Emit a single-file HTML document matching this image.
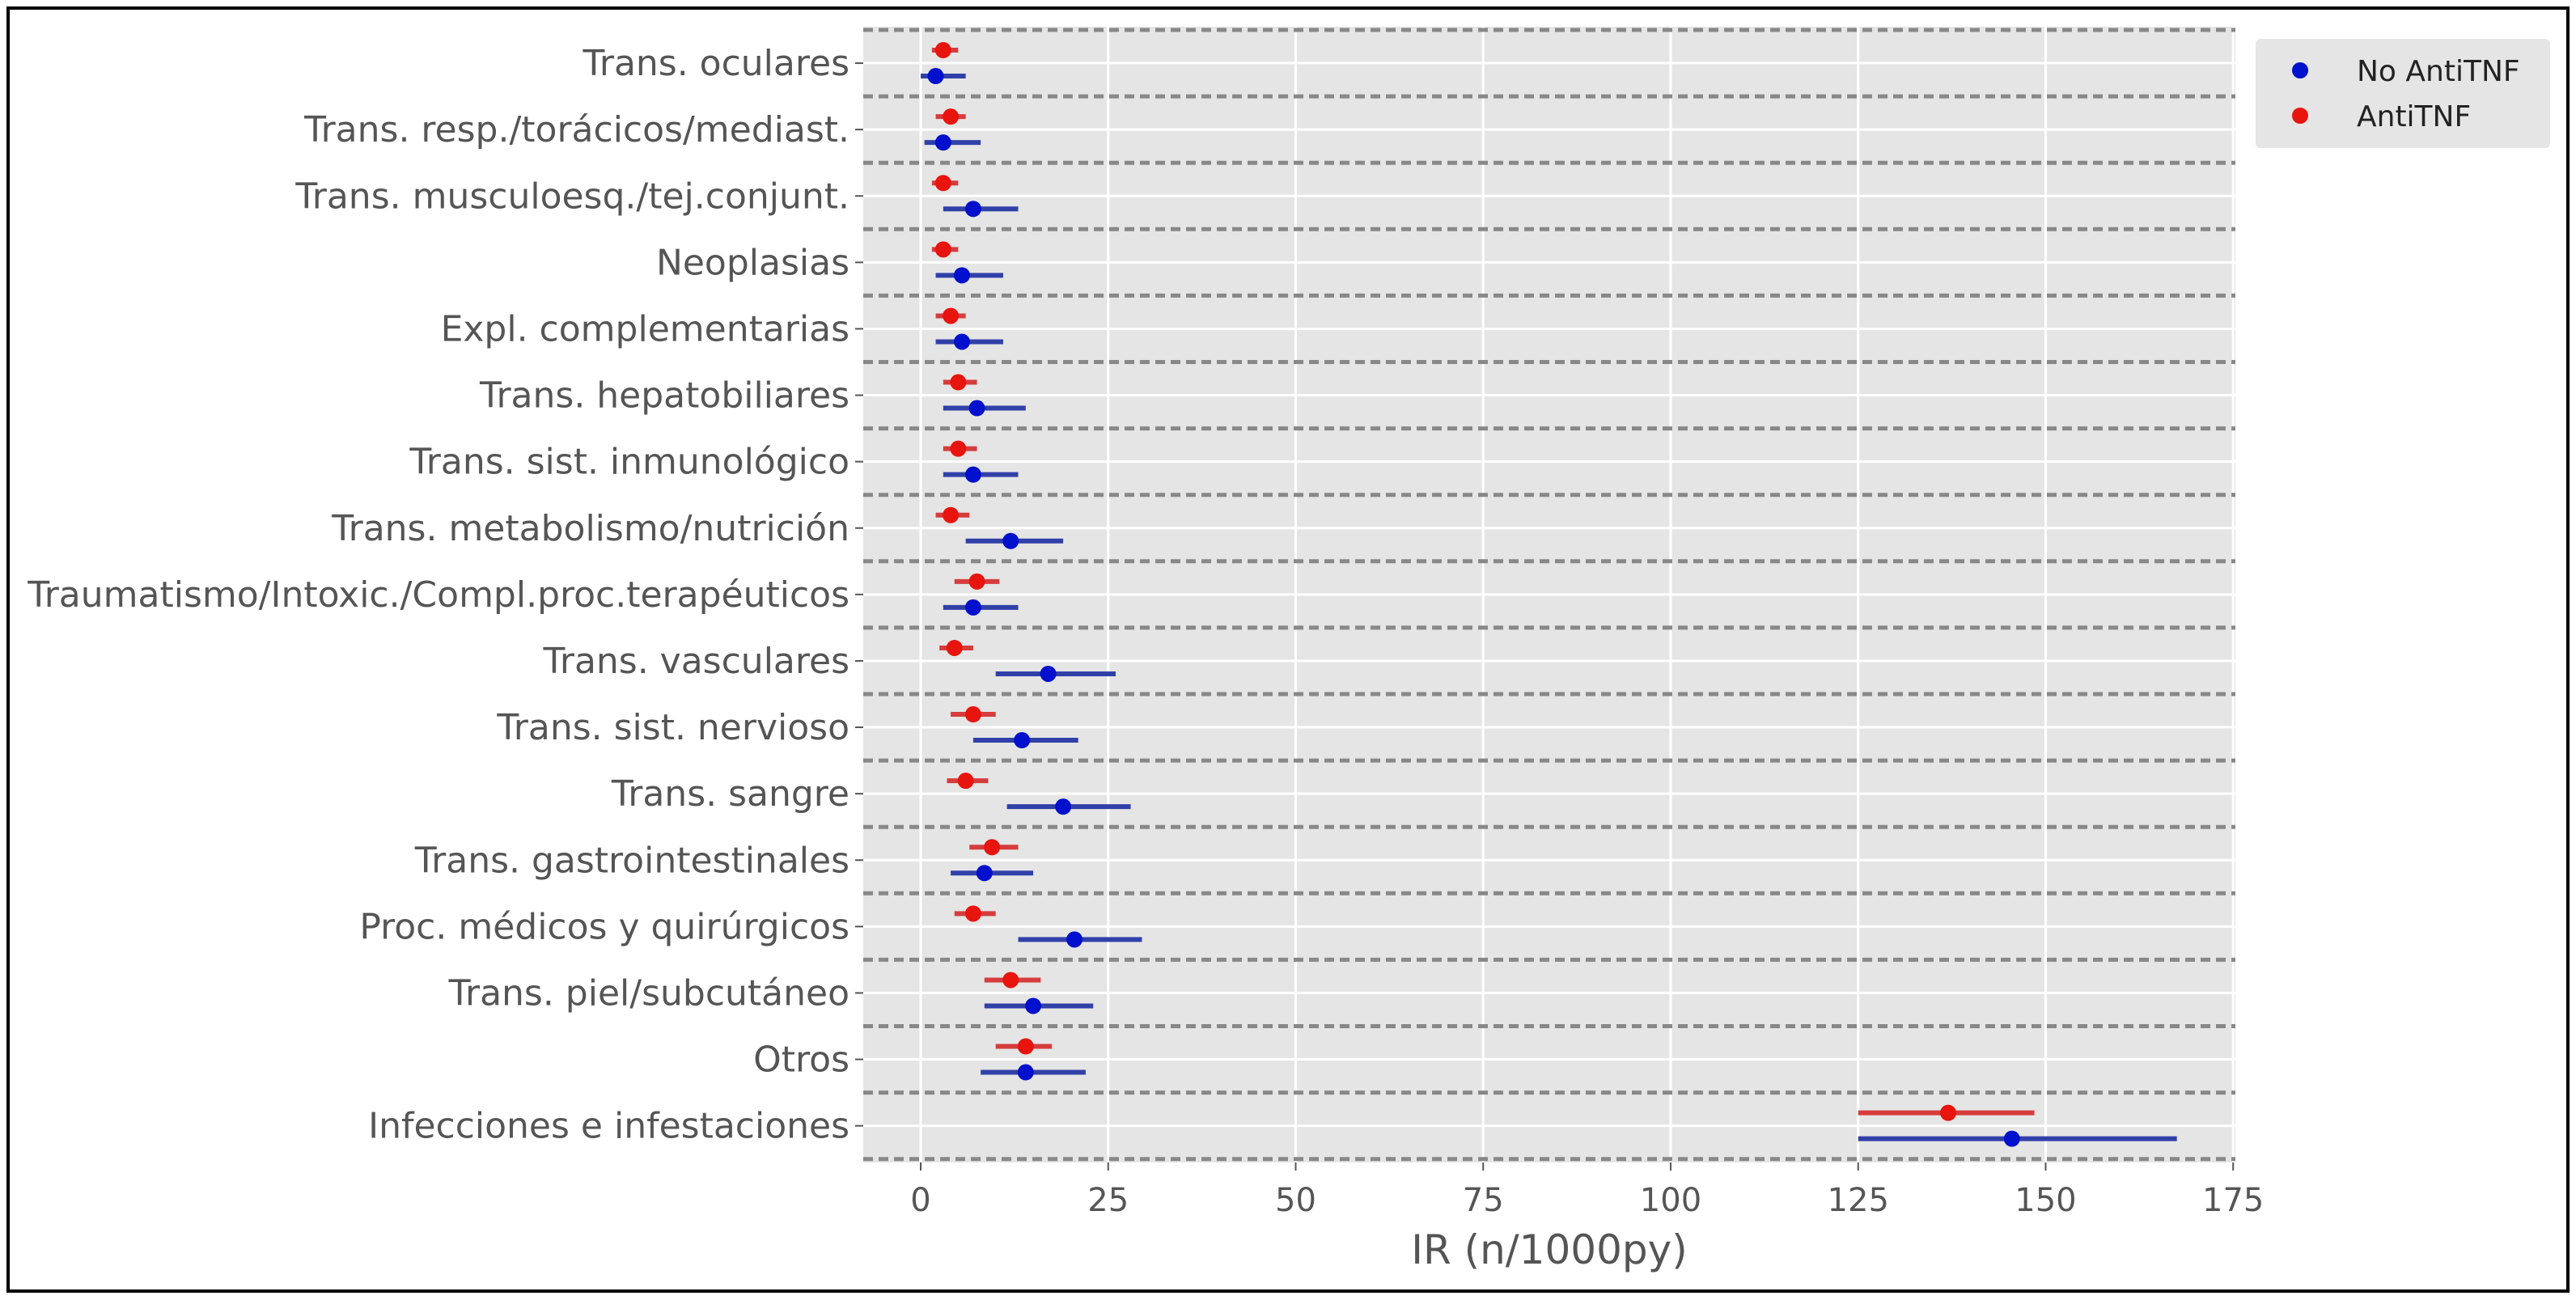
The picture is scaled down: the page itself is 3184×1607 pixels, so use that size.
<!DOCTYPE html>
<html><head><meta charset="utf-8">
<style>
html,body{margin:0;padding:0;background:#fff;}
svg{display:block;font-family:"DejaVu Sans","Liberation Sans",sans-serif;}
</style></head>
<body>
<svg id="chart" width="3184" height="1607" viewBox="0 0 3184 1607" xmlns="http://www.w3.org/2000/svg">
<rect x="10" y="10" width="3164" height="1586" fill="#fff" stroke="#000" stroke-width="4"/>
<g id="plot"></g>
</svg>
<script>
const categories = ["Trans. oculares","Trans. resp./torácicos/mediast.","Trans. musculoesq./tej.conjunt.","Neoplasias","Expl. complementarias","Trans. hepatobiliares","Trans. sist. inmunológico","Trans. metabolismo/nutrición","Traumatismo/Intoxic./Compl.proc.terapéuticos","Trans. vasculares","Trans. sist. nervioso","Trans. sangre","Trans. gastrointestinales","Proc. médicos y quirúrgicos","Trans. piel/subcutáneo","Otros","Infecciones e infestaciones"];
const antiVal = [3,4,3,3,4,5,5,4,7.5,4.5,7,6,9.5,7,12,14,137];
const antiLo  = [1.5,2,1.5,1.5,2,3,3,2,4.5,2.5,4,3.5,6.5,4.5,8.5,10,125];
const antiHi  = [5,6,5,5,6,7.5,7.5,6.5,10.5,7,10,9,13,10,16,17.5,148.5];
const noVal = [2,3,7,5.5,5.5,7.5,7,12,7,17,13.5,19,8.5,20.5,15,14,145.5];
const noLo  = [0,0.5,3,2,2,3,3,6,3,10,7,11.5,4,13,8.5,8,125];
const noHi  = [6,8,13,11,11,14,13,19,13,26,21,28,15,29.5,23,22,167.5];
const xTicks = [0,25,50,75,100,125,150,175];

const NS="http://www.w3.org/2000/svg";
const g=document.getElementById('plot');
const L=1067,R=2763,T=33,B=1437;
const xMin=-7.66,xMax=175.3;
const yTop=37,step=82.1;
function xs(v){return L+(v-xMin)/(xMax-xMin)*(R-L);}
function yc(i){return yTop+step*(i+0.5);}
function mk(tag,attrs,name,txt){const e=document.createElementNS(NS,tag);for(const k in attrs)e.setAttribute(k,attrs[k]);if(txt!==undefined)e.textContent=txt;g.appendChild(e);return e;}

mk('rect',{x:L,y:T,width:R-L,height:B-T,fill:'#e5e5e5'},'plot-background');
xTicks.forEach(t=>{
  mk('line',{x1:xs(t),x2:xs(t),y1:T,y2:B,stroke:'#fff','stroke-width':3},'x-gridline');
  mk('line',{x1:xs(t),x2:xs(t),y1:B,y2:B+10,stroke:'#555','stroke-width':2},'x-tick');
  mk('text',{x:xs(t),y:1497,'text-anchor':'middle','font-size':40,fill:'#555'},'x-tick-label',String(t));
});
categories.forEach((c,i)=>{
  mk('line',{x1:L,x2:R,y1:yc(i),y2:yc(i),stroke:'#fff','stroke-width':3},'y-gridline');
  mk('line',{x1:L-10,x2:L,y1:yc(i),y2:yc(i),stroke:'#555','stroke-width':2},'y-tick');
  mk('text',{x:1050,y:yc(i)+15,'text-anchor':'end','font-size':44,fill:'#555'},'y-tick-label',c);
});
for(let i=0;i<=categories.length;i++){
  mk('line',{x1:L,x2:R,y1:yTop+step*i,y2:yTop+step*i,stroke:'#888','stroke-width':5,'stroke-dasharray':'12 7'},'category-separator');
}
categories.forEach((c,i)=>{
  const yr=yc(i)-16, yb=yc(i)+16;
  mk('line',{x1:xs(antiLo[i]),x2:xs(antiHi[i]),y1:yr,y2:yr,stroke:'#d63c3c','stroke-width':6},'antitnf-ci');
  mk('circle',{cx:xs(antiVal[i]),cy:yr,r:10,fill:'#e8140e'},'antitnf-point');
  mk('line',{x1:xs(noLo[i]),x2:xs(noHi[i]),y1:yb,y2:yb,stroke:'#3140a8','stroke-width':6},'no-antitnf-ci');
  mk('circle',{cx:xs(noVal[i]),cy:yb,r:10,fill:'#0010cc'},'no-antitnf-point');
});
mk('text',{x:(L+R)/2,y:1562,'text-anchor':'middle','font-size':50,fill:'#555'},'x-axis-title','IR (n/1000py)');
mk('rect',{x:2788,y:48,width:364,height:135,rx:6,fill:'#e5e5e5'},'legend-box');
mk('circle',{cx:2843,cy:87,r:10,fill:'#0010cc'},'legend-marker-no-antitnf');
mk('text',{x:2913,y:100,'font-size':36,fill:'#222'},'legend-label-no-antitnf','No AntiTNF');
mk('circle',{cx:2843,cy:143,r:10,fill:'#e8140e'},'legend-marker-antitnf');
mk('text',{x:2913,y:156,'font-size':36,fill:'#222'},'legend-label-antitnf','AntiTNF');
</script>
</body></html>
